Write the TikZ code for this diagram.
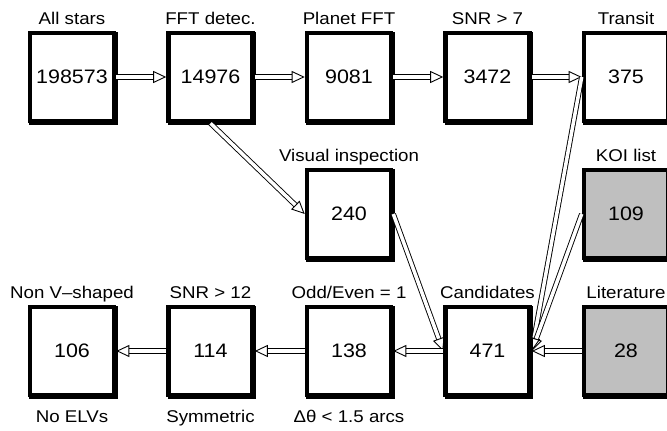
\documentclass[tikz,border=0pt]{standalone}
\usepackage{fontspec}
\setmainfont{Liberation Sans}[FakeStretch=1.1]
\usetikzlibrary{arrows.meta,shadows,matrix}

\begin{document}
\begin{tikzpicture}[x=1pt,y=1pt,
box/.style={draw,line width=4.6pt,fill=white,
 minimum width=84pt,minimum height=88pt,
 font=\fontsize{19.5}{21}\selectfont,
 general shadow={draw=black,line width=4.6pt,
  shadow xshift=1.6pt,shadow yshift=-1.6pt}},
koi/.style={box,fill=black!25},
every label/.style={font=\fontsize{17}{19}\selectfont,
 inner sep=0pt,text height=12pt,text depth=3.5pt},
label distance=2.5pt,
flow/.style={double,double distance=3.5pt,line width=0.9pt,
 -{Triangle[open,length=13pt,width=12pt]}}]
\useasboundingbox (0,0) rectangle (667,431);
\matrix[column sep={138.5pt,between origins},
 row sep={137pt,between origins},
 matrix anchor=all.center] at (72,354)
{
\node[box,label={above:All stars}] (all) {198573};
 & \node[box,label={above:FFT detec.}] (fft) {14976};
 & \node[box,label={above:Planet FFT}] (planet) {9081};
 & \node[box,label={above:SNR > 7}] (snr7) {3472};
 & \node[box,label={above:Transit}] (transit) {375}; \\
 &
 & \node[box,label={above:Visual inspection}] (vis) {240};
 &
 & \node[koi,label={above:KOI list}] (koi) {109}; \\
\node[box,label={above:Non V--shaped},
 label={[label distance=13.5pt]below:No ELVs}] (nonv) {106};
 & \node[box,label={above:SNR > 12},
 label={[label distance=13.5pt]below:Symmetric}] (snr12) {114};
 & \node[box,label={above:Odd/Even = 1},
 label={[label distance=13.5pt]below:Δθ < 1.5 arcs}] (odd) {138};
 & \node[box,label={above:Candidates}] (cand) {471};
 & \node[koi,label={above:Literature}] (lit) {28}; \\
};
% top row
\draw[flow] (all.east) -- (fft.west);
\draw[flow] (fft.east) -- (planet.west);
\draw[flow] (planet.east) -- (snr7.west);
\draw[flow] (snr7.east) -- (transit.west);
% into the candidates
\draw[flow] (fft.south) -- (vis.west);
\draw[flow] (vis.east) -- (cand.west);
\draw[flow] (transit.west) -- (cand.east);
\draw[flow] (koi.west) -- (cand.east);
\draw[flow] (lit.west) -- (cand.east);
% bottom row
\draw[flow] (cand.west) -- (odd.east);
\draw[flow] (odd.west) -- (snr12.east);
\draw[flow] (snr12.west) -- (nonv.east);
\end{tikzpicture}
\end{document}
